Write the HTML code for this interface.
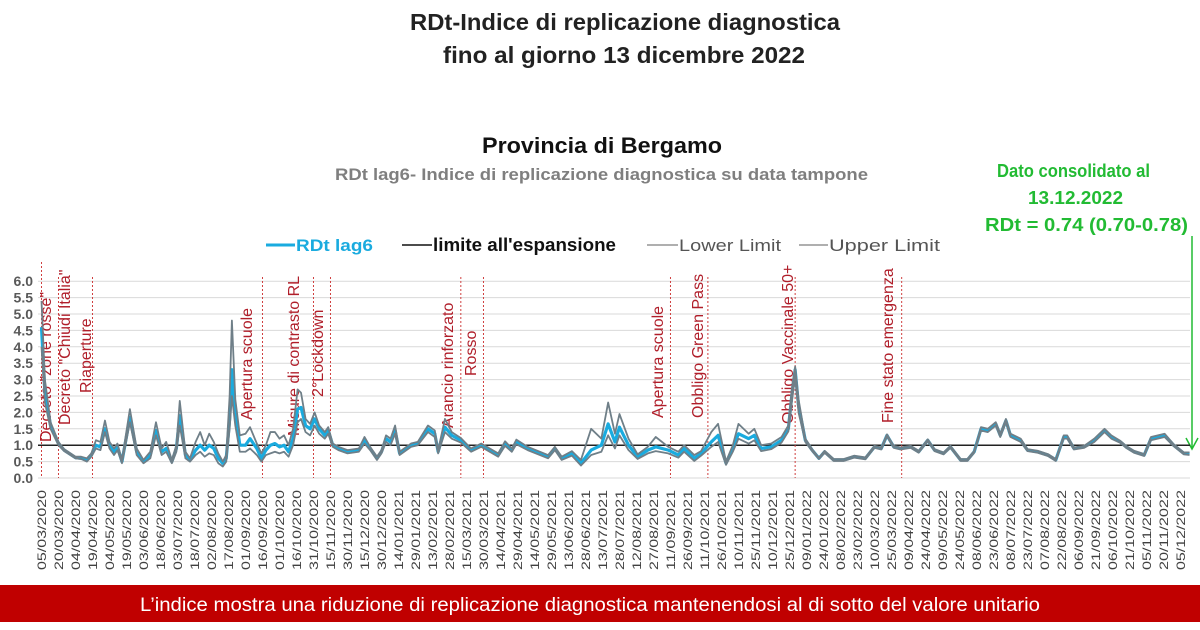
<!DOCTYPE html>
<html><head><meta charset="utf-8"><style>
body{margin:0;width:1200px;height:625px;overflow:hidden;background:#fff;font-family:"Liberation Sans",Arial,sans-serif;}
svg text{font-family:"Liberation Sans",Arial,sans-serif;}
</style></head><body>
<svg id="c" width="1200" height="625">
<text x="410" y="30" textLength="430" lengthAdjust="spacingAndGlyphs" font-size="23" font-weight="bold" fill="#222">RDt-Indice di replicazione diagnostica</text>
<text x="443" y="63" textLength="362" lengthAdjust="spacingAndGlyphs" font-size="23" font-weight="bold" fill="#222">fino al giorno 13 dicembre 2022</text>
<text x="482" y="153" textLength="240" lengthAdjust="spacingAndGlyphs" font-size="22" font-weight="bold" fill="#111">Provincia di Bergamo</text>
<text x="335" y="180" textLength="533" lengthAdjust="spacingAndGlyphs" font-size="17" font-weight="bold" fill="#7f7f7f">RDt lag6- Indice di replicazione diagnostica su data tampone</text>
<g fill="#22bb33" font-weight="bold" font-size="18">
<text x="997" y="177" textLength="153" lengthAdjust="spacingAndGlyphs">Dato consolidato al</text>
<text x="1028" y="204" textLength="95" lengthAdjust="spacingAndGlyphs">13.12.2022</text>
<text x="985" y="231" textLength="203" lengthAdjust="spacingAndGlyphs">RDt = 0.74 (0.70-0.78)</text>
</g>
<g>
<g><line x1="266" y1="245" x2="295" y2="245" stroke="#1aabdf" stroke-width="3"/><text x="296" y="251" textLength="77" lengthAdjust="spacingAndGlyphs" font-size="17" font-weight="bold" fill="#1aabdf">RDt lag6</text></g>
<g><line x1="402" y1="245" x2="432" y2="245" stroke="#111" stroke-width="1.5"/><text x="433" y="251" textLength="183" lengthAdjust="spacingAndGlyphs" font-size="18" font-weight="bold" fill="#111">limite all'espansione</text></g>
<g><line x1="647" y1="245" x2="678" y2="245" stroke="#7f7f7f" stroke-width="1.2"/><text x="679" y="251" textLength="102" lengthAdjust="spacingAndGlyphs" font-size="17" fill="#555">Lower Limit</text></g>
<g><line x1="799" y1="245" x2="828" y2="245" stroke="#7f7f7f" stroke-width="1.2"/><text x="829" y="251" textLength="111" lengthAdjust="spacingAndGlyphs" font-size="17" fill="#555">Upper Limit</text></g>
</g>
<line x1="1192" y1="236" x2="1192" y2="448" stroke="#22bb33" stroke-width="1.5"/>
<polyline points="1186,438 1192,449 1198,438" fill="none" stroke="#22bb33" stroke-width="1.5"/>
<g id="grid"></g><g id="events"></g><g id="series"></g><g id="xl"></g>
<rect x="0" y="585" width="1200" height="37" fill="#c00000"/>
<text x="140" y="611" textLength="900" lengthAdjust="spacingAndGlyphs" font-size="19" fill="#fff">L’indice mostra una riduzione di replicazione diagnostica mantenendosi al di sotto del valore unitario</text>
</svg>
<script>
const days=[0,3,8,15,20,30,35,40,44,48,52,56,60,64,67,71,78,84,90,96,101,106,110,115,119,122,127,131,136,140,144,148,152,156,160,163,166,168,171,175,180,184,190,194,198,202,206,210,214,218,222,226,229,233,237,241,245,250,253,257,262,270,280,285,290,296,300,304,308,312,316,326,332,341,347,350,356,362,370,379,388,403,409,415,419,429,447,453,459,468,476,485,494,500,506,510,518,526,535,542,553,562,567,576,582,591,597,604,610,615,624,629,635,644,653,659,662,665,668,674,680,686,691,699,708,717,727,735,741,746,752,758,767,774,782,788,796,802,811,817,823,829,835,842,846,851,855,864,870,879,888,895,902,905,911,920,929,938,944,952,957,964,973,979,985,991,999,1008,1013];
const rdt=[4.6,2.6,1.6,1.05,0.85,0.62,0.6,0.55,0.7,1.0,0.95,1.5,1.0,0.8,0.95,0.5,1.85,0.8,0.5,0.7,1.45,0.8,0.9,0.5,0.9,1.9,0.7,0.55,0.85,1.0,0.85,1.0,0.9,0.6,0.45,0.6,1.8,3.3,2.0,1.0,1.0,1.2,0.9,0.6,0.85,1.0,1.05,0.95,1.0,0.8,1.2,2.1,2.15,1.6,1.5,1.8,1.5,1.3,1.45,1.0,0.9,0.8,0.85,1.15,0.9,0.6,0.8,1.2,1.1,1.45,0.75,1.0,1.05,1.5,1.35,0.8,1.55,1.3,1.15,0.85,1.0,0.7,1.05,0.85,1.1,0.9,0.65,0.9,0.6,0.75,0.45,0.85,1.0,1.65,1.1,1.55,1.0,0.65,0.85,0.95,0.85,0.7,0.9,0.6,0.75,1.1,1.3,0.45,0.9,1.35,1.2,1.3,0.9,0.95,1.15,1.5,2.5,3.3,2.2,1.15,0.85,0.6,0.8,0.55,0.55,0.65,0.6,0.95,0.9,1.3,0.95,0.9,0.95,0.8,1.15,0.85,0.75,0.95,0.55,0.55,0.8,1.5,1.45,1.65,1.3,1.75,1.3,1.15,0.85,0.8,0.7,0.55,1.25,1.25,0.9,0.95,1.15,1.45,1.25,1.1,0.95,0.8,0.7,1.2,1.25,1.3,1.0,0.75,0.74];
const lower=[4.0,2.3,1.5,1.0,0.82,0.6,0.58,0.5,0.65,0.9,0.85,1.4,0.9,0.7,0.85,0.45,1.7,0.7,0.45,0.6,1.3,0.7,0.8,0.45,0.8,1.6,0.6,0.5,0.7,0.8,0.65,0.75,0.7,0.45,0.35,0.5,1.5,2.5,1.6,0.8,0.8,0.9,0.7,0.5,0.7,0.75,0.8,0.75,0.8,0.65,1.0,1.7,1.8,1.4,1.3,1.6,1.35,1.2,1.35,0.95,0.85,0.75,0.8,1.05,0.85,0.55,0.75,1.1,1.0,1.35,0.7,0.95,1.0,1.4,1.25,0.75,1.4,1.2,1.08,0.8,0.95,0.65,0.98,0.8,1.03,0.85,0.6,0.85,0.55,0.68,0.38,0.7,0.8,1.3,0.9,1.3,0.85,0.58,0.75,0.82,0.75,0.62,0.8,0.52,0.68,0.95,1.1,0.4,0.8,1.2,1.05,1.15,0.82,0.88,1.08,1.42,2.3,3.1,2.0,1.1,0.82,0.58,0.77,0.52,0.52,0.62,0.57,0.92,0.87,1.27,0.92,0.87,0.92,0.77,1.12,0.82,0.72,0.92,0.52,0.52,0.77,1.45,1.4,1.6,1.25,1.7,1.25,1.1,0.82,0.77,0.67,0.52,1.2,1.2,0.87,0.92,1.1,1.4,1.2,1.07,0.92,0.77,0.67,1.15,1.2,1.25,0.97,0.72,0.70];
const upper=[5.4,3.0,1.7,1.1,0.88,0.65,0.65,0.6,0.75,1.15,1.1,1.75,1.1,0.9,1.05,0.55,2.1,0.9,0.55,0.8,1.7,0.9,1.1,0.55,1.0,2.35,0.8,0.6,1.1,1.4,1.0,1.35,1.1,0.75,0.5,0.7,2.5,4.8,2.4,1.3,1.35,1.55,1.05,0.75,1.0,1.4,1.4,1.2,1.3,1.0,1.5,2.7,2.6,1.8,1.65,2.0,1.6,1.4,1.55,1.05,0.95,0.85,0.9,1.25,0.95,0.65,0.85,1.3,1.2,1.6,0.8,1.05,1.1,1.6,1.45,0.85,1.8,1.4,1.22,0.9,1.05,0.75,1.12,0.9,1.17,0.95,0.7,0.95,0.65,0.82,0.55,1.5,1.2,2.3,1.35,1.95,1.2,0.72,0.95,1.25,0.95,0.8,1.0,0.7,0.82,1.4,1.65,0.5,1.0,1.65,1.35,1.5,1.0,1.05,1.25,1.6,2.7,3.4,2.4,1.2,0.88,0.62,0.83,0.58,0.58,0.68,0.63,0.98,0.93,1.33,0.98,0.93,0.98,0.83,1.18,0.88,0.78,0.98,0.58,0.58,0.83,1.55,1.5,1.7,1.35,1.8,1.35,1.2,0.88,0.83,0.73,0.58,1.3,1.3,0.93,0.98,1.2,1.5,1.3,1.13,0.98,0.83,0.73,1.25,1.3,1.35,1.03,0.78,0.78];
const yTicks=[0,0.5,1,1.5,2,2.5,3,3.5,4,4.5,5,5.5,6];
const eventDays=[0,15,45,195,240,255,370,390,555,588,665,759];
const eventLabels=['Decreto "zone rosse"','Decreto "Chiudi Italia"','Riaperture','Apertura scuole','Misure di contrasto RL','2°Lockdown','Arancio rinforzato','Rosso','Apertura scuole','Obbligo Green Pass','Obbligo Vaccinale 50+','Fine stato emergenza'];
const eventTextX=[51,70,91,252,299,323,453,476,663,703,793,893];
const eventTextBottom=[442,425,393,420,436,397,428,376,418,418,424,423];

const NS='http://www.w3.org/2000/svg';
const X0=41.5,PX=1.1333,Y0=478,PY=32.8;
const xs=d=>X0+d*PX, ys=v=>Y0-v*PY;
function mk(tag,attrs,parent){const e=document.createElementNS(NS,tag);for(const k in attrs)e.setAttribute(k,attrs[k]);parent.appendChild(e);return e;}
const grid=document.getElementById('grid');
yTicks.forEach(v=>{
  const l=mk('line',{x1:38,x2:1190,y1:ys(v),y2:ys(v),stroke:'#d9d9d9','stroke-width':1},grid);
  
  
  const t=mk('text',{x:33,y:ys(v)+5,'text-anchor':'end','font-size':14,'font-weight':'bold',fill:'#595959'},grid);
  t.textContent=v.toFixed(1);
  
  
});
const ref=mk('line',{x1:38,x2:1190,y1:ys(1),y2:ys(1),stroke:'#222','stroke-width':1.5},grid);


const ev=document.getElementById('events');
eventDays.forEach((d,i)=>{
  const l=mk('line',{x1:xs(d),x2:xs(d),y1:i==0?262:277,y2:478,stroke:'#d04040','stroke-width':1,'stroke-dasharray':'2,2'},ev);
  
  
  const tx=eventTextX[i],ty=eventTextBottom[i];
  const t=mk('text',{x:tx,y:ty,transform:`rotate(-90 ${tx} ${ty})`,'font-size':16,fill:'#b01e2a'},ev);
  t.textContent=eventLabels[i];
  
  
});
const ser=document.getElementById('series');
function path(arr,color,w,name){
  const p=mk('polyline',{points:arr.map((v,i)=>xs(days[i])+','+ys(v)).join(' '),fill:'none',stroke:color,'stroke-width':w,'stroke-linejoin':'round'},ser);
  
  
}
path(rdt,'#1aabdf',3.2,'rdt-line');
path(upper,'#6f7f88',1.8,'upper-limit-line');
path(lower,'#6f7f88',1.8,'lower-limit-line');
const xl=document.getElementById('xl');
const start=new Date(Date.UTC(2020,2,5));
for(let d=0;d<=1005;d+=15){
  const dt=new Date(start.getTime()+d*86400000);
  const s=String(dt.getUTCDate()).padStart(2,'0')+'/'+String(dt.getUTCMonth()+1).padStart(2,'0')+'/'+dt.getUTCFullYear();
  const x=xs(d)+4.5,y=490;
  const t=mk('text',{x:x,y:y,transform:`rotate(-90 ${x} ${y})`,'text-anchor':'end','font-size':12,fill:'#404040',textLength:80,lengthAdjust:'spacingAndGlyphs'},xl);
  t.textContent=s;
  
  
}
</script>
</body></html>
